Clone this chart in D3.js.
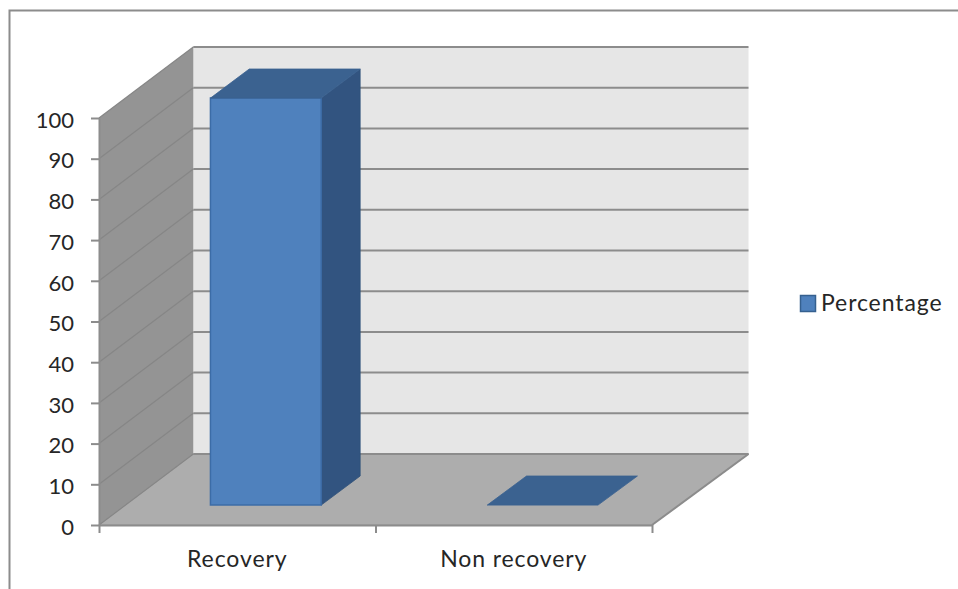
<!DOCTYPE html>
<html>
<head>
<meta charset="utf-8">
<script src="https://cdnjs.cloudflare.com/ajax/libs/d3/7.8.5/d3.min.js"></script>
<style>
  html, body { margin: 0; padding: 0; background: #fff; overflow: hidden; }
  text { font-family: Lato, "Open Sans", sans-serif; fill: #262626; }
</style>
</head>
<body>
<div id="chart"></div>
<script>
const categories = ['Recovery', 'Non recovery'];
const percentage = [100, 0];
const yTicks = [0, 10, 20, 30, 40, 50, 60, 70, 80, 90, 100];
const seriesName = 'Percentage';

const width = 958;
const height = 589;

const svg = d3.select('#chart')
  .append('svg')
  .attr('width', width)
  .attr('height', height);

const x = d3.scaleBand().domain(categories).range([101, 654]).paddingInner(0.6).paddingOuter(0.3);
const y = d3.scaleLinear().domain([0, 100]).range([525, 118]);
const xEdges = d3.scaleLinear().domain([0, categories.length]).range([99, 652]);

// depth goes 0 (front) to 1 (back wall), the floor widens a little to the right
const depthY = -71;
const barDepth = [0.28, 0.69];

function pt(px, py, d) {
  const depthX = 94.3 + (px - 99) / 553 * 2.2;
  return [px + depthX * d, py + depthY * d];
}
function poly(points) {
  return 'M' + points.map(p => p.join(',')).join('L') + 'Z';
}

// outer frame, only top and left fall inside the picture
svg.append('path')
  .attr('d', `M9.5,${height}V10.5H${width}`)
  .attr('fill', 'none')
  .attr('stroke', '#8c8c8c')
  .attr('stroke-width', 2);

const x0 = xEdges(0);
const x1 = xEdges(categories.length);
const y0 = y(0);
const yMax = y(100);

// back wall
svg.append('path')
  .attr('d', poly([pt(x0, y0, 1), pt(x1, y0, 1), pt(x1, yMax, 1), pt(x0, yMax, 1)]))
  .attr('fill', '#e6e6e6');

// side wall
svg.append('path')
  .attr('d', poly([pt(x0, y0, 0), pt(x0, y0, 1), pt(x0, yMax, 1), pt(x0, yMax, 0)]))
  .attr('fill', '#949494');

// floor
svg.append('path')
  .attr('d', poly([pt(x0, y0, 0), pt(x1, y0, 0), pt(x1, y0, 1), pt(x0, y0, 1)]))
  .attr('fill', '#adadad')
  .attr('stroke', '#9a9a9a')
  .attr('stroke-width', 1);

// gridlines, back wall then side wall
const grid = svg.append('g').attr('fill', 'none');
grid.selectAll('.back')
  .data(yTicks)
  .enter().append('path')
  .attr('class', 'back')
  .attr('d', d => d3.line()([pt(x0, y(d), 1), pt(x1, y(d), 1)]))
  .attr('stroke', '#8c8c8c')
  .attr('stroke-width', 2);
grid.selectAll('.side')
  .data(yTicks)
  .enter().append('path')
  .attr('class', 'side')
  .attr('d', d => d3.line()([pt(x0, y(d), 0), pt(x0, y(d), 1)]))
  .attr('stroke', '#868686')
  .attr('stroke-width', 1.2);

// edge of the floor to the right
svg.append('path')
  .attr('d', d3.line()([pt(x1, y0, 0), pt(x1, y0, 1)]))
  .attr('stroke', '#8c8c8c')
  .attr('stroke-width', 2);

// bars
const rows = categories.map((c, i) => ({ name: c, value: percentage[i] }));
const bars = svg.append('g').selectAll('g')
  .data(rows)
  .enter().append('g');

const faceStroke = 0.8;
bars.each(function (d) {
  const g = d3.select(this);
  const l = x(d.name);
  const r = l + x.bandwidth();
  const b = y(0);
  const t = y(d.value);
  const [dn, df] = barDepth;
  if (d.value > 0) {
    // right side
    g.append('path')
      .attr('d', poly([pt(r, b, dn), pt(r, b, df), pt(r, t, df), pt(r, t, dn)]))
      .attr('fill', '#325480')
      .attr('stroke', '#2f5078')
      .attr('stroke-width', faceStroke);
    // front
    g.append('path')
      .attr('d', poly([pt(l, b, dn), pt(r, b, dn), pt(r, t, dn), pt(l, t, dn)]))
      .attr('fill', '#4f81bd')
      .attr('stroke', '#3c6ca6')
      .attr('stroke-width', 1.5);
  }
  // top
  g.append('path')
    .attr('d', poly([pt(l, t, dn), pt(r, t, dn), pt(r, t, df), pt(l, t, df)]))
    .attr('fill', '#3b6290')
    .attr('stroke', '#3b6290')
    .attr('stroke-width', faceStroke);
});

// axes
const yAxis = svg.append('g')
  .attr('transform', `translate(${x0},0)`)
  .call(d3.axisLeft(y).tickValues(yTicks).tickSize(8).tickPadding(17).tickSizeOuter(0));
yAxis.selectAll('text')
  .attr('dy', '0.42em')
  .style('font-size', '22px');

const xAxis = svg.append('g')
  .attr('transform', `translate(0,${y0})`)
  .call(d3.axisBottom(xEdges).ticks(categories.length).tickFormat('').tickSize(8).tickSizeOuter(0));

svg.selectAll('.domain, .tick line')
  .attr('stroke', '#8c8c8c')
  .attr('stroke-width', 2);

// category labels
svg.append('g').selectAll('text')
  .data(categories)
  .enter().append('text')
  .attr('x', (d, i) => xEdges(i + 0.5))
  .attr('y', 567)
  .attr('text-anchor', 'middle')
  .style('font-size', '23px')
  .style('letter-spacing', '0.9px')
  .text(d => d);

// legend
const legend = svg.append('g').attr('transform', 'translate(800,295)');
legend.append('rect')
  .attr('width', 15)
  .attr('height', 16)
  .attr('x', 0.5)
  .attr('y', 0.5)
  .attr('fill', '#4f81bd')
  .attr('stroke', '#35608f')
  .attr('stroke-width', 1.5);
legend.append('text')
  .attr('x', 21)
  .attr('y', 16)
  .style('font-size', '23px')
  .style('letter-spacing', '0.9px')
  .text(seriesName);
</script>
</body>
</html>
